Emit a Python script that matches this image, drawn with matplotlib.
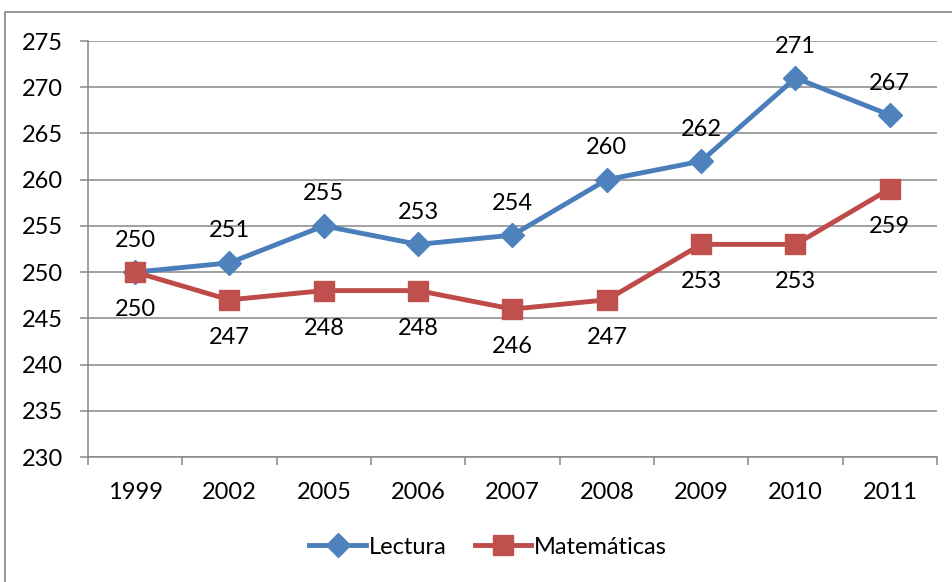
import matplotlib
matplotlib.use('Agg')
import matplotlib.pyplot as plt
from matplotlib.patches import Rectangle
import numpy as np

# Datos
years = ['1999', '2002', '2005', '2006', '2007', '2008', '2009', '2010', '2011']
lectura = [250, 251, 255, 253, 254, 260, 262, 271, 267]
matematicas = [250, 247, 248, 248, 246, 247, 253, 253, 259]

plt.rcParams['font.family'] = ['Lato', 'DejaVu Sans']
fs = 17

fig = plt.figure(figsize=(9.53, 5.82), dpi=100)
ax = fig.add_axes([88/953, 1 - 457/582, (937 - 88)/953, (457 - 41)/582])

# Marco del grafico
fig.patches.append(Rectangle((5/953, -0.1), 1.2, 1 - 12/582 + 0.1,
                             transform=fig.transFigure, fill=False,
                             edgecolor='#868686', linewidth=1.2))

x = np.arange(len(years))
ax.plot(x, lectura, color='#4A7EBB', linewidth=3.5, marker='D', markersize=12,
        markerfacecolor='#4F81BD', markeredgecolor='#4F81BD', label='Lectura', zorder=3)
ax.plot(x, matematicas, color='#BE4B48', linewidth=3.5, marker='s', markersize=14,
        markerfacecolor='#C0504D', markeredgecolor='#C0504D', label='Matemáticas', zorder=3)

# Etiquetas de datos
for xi, v in zip(x, lectura):
    ax.annotate(str(v), (xi, v), xytext=(0, 23), textcoords='offset points',
                ha='center', va='center', fontsize=fs)
for xi, v in zip(x, matematicas):
    ax.annotate(str(v), (xi, v), xytext=(0, -27), textcoords='offset points',
                ha='center', va='center', fontsize=fs)

ax.set_xlim(-0.5, len(years) - 0.5)
ax.set_ylim(230, 275)
ax.set_yticks(np.arange(230, 276, 5))
ax.set_xticks(x)
ax.set_xticklabels(years)
ax.set_xticks(np.arange(-0.5, len(years), 1), minor=True)

ax.grid(axis='y', color='#868686', linewidth=1.1)
ax.set_axisbelow(True)
for s in ['top', 'right']:
    ax.spines[s].set_visible(False)
for s in ['left', 'bottom']:
    ax.spines[s].set_color('#868686')
    ax.spines[s].set_linewidth(1.1)

ax.tick_params(axis='y', length=6, width=1.1, color='#868686', pad=12, labelsize=fs)
ax.tick_params(axis='x', which='major', length=0, pad=18, labelsize=fs)
ax.tick_params(axis='x', which='minor', length=6, width=1.1, color='#868686')

ax.legend(loc='center', bbox_to_anchor=(488/953, 1 - 547/582), bbox_transform=fig.transFigure,
          ncol=2, frameon=False, fontsize=fs, handlelength=2.4, handletextpad=0.1,
          columnspacing=1.2)

fig.savefig('out.png', dpi=100)
